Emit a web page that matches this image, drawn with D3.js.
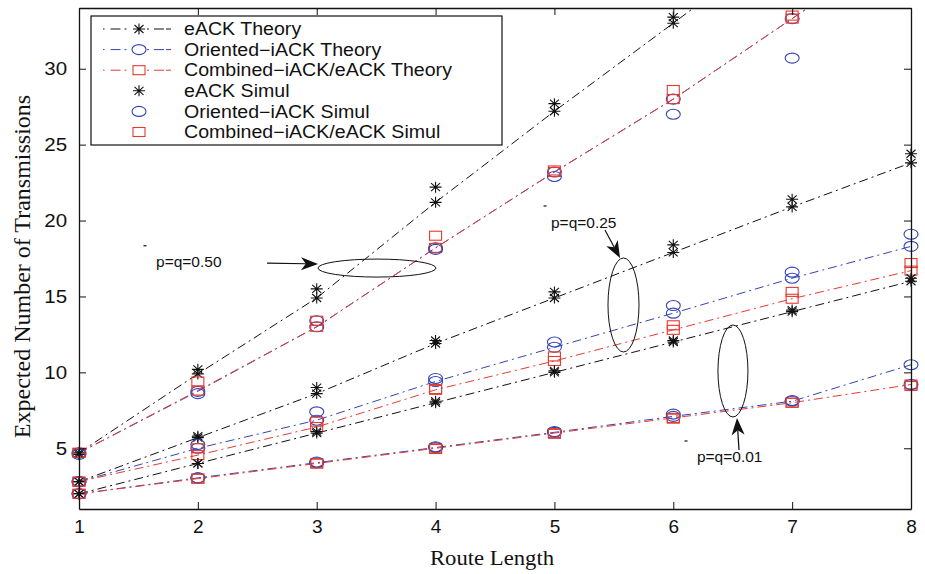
<!DOCTYPE html>
<html>
<head>
<meta charset="utf-8">
<script src="https://cdn.jsdelivr.net/npm/d3@7"></script>
<style>
  body { margin: 0; background: #fff; }
  text { font-family: "Liberation Sans", Arial, sans-serif; fill: #111; }
</style>
</head>
<body>
<div class="chart"></div>
<script>
const routeLength = [1, 2, 3, 4, 5, 6, 7, 8];
const yTickValues = [5, 10, 15, 20, 25, 30];

// p=q=0.50
const eackTheory50 = [4.7, 9.9, 14.9, 21.2, 27.2, 33.0, 38.9, 44.8];
const eackSimul50 = [4.6, 10.2, 15.5, 22.2, 27.7, 33.4, null, null];
const orientedTheory50 = [4.7, 8.75, 13.0, 18.2, 23.2, 28.0, 33.3, 38.6];
const orientedSimul50 = [4.6, 8.6, 13.4, 18.1, 22.9, 27.0, 30.7, null];
const combinedTheory50 = [4.7, 8.8, 13.0, 18.2, 23.2, 28.0, 33.3, 38.6];
const combinedSimul50 = [4.7, 9.4, 13.4, 19.0, 23.3, 28.6, 33.5, null];

// p=q=0.25
const eackTheory25 = [2.8, 5.7, 8.6, 11.9, 14.9, 17.9, 20.9, 23.8];
const eackSimul25 = [2.8, 5.8, 9.0, 12.1, 15.3, 18.4, 21.4, 24.4];
const orientedTheory25 = [2.8, 5.0, 6.85, 9.4, 11.65, 13.9, 16.2, 18.3];
const orientedSimul25 = [2.8, 5.25, 7.4, 9.6, 12.0, 14.4, 16.6, 19.1];
const combinedTheory25 = [2.8, 4.55, 6.4, 8.85, 10.75, 12.8, 14.85, 16.7];
const combinedSimul25 = [2.8, 5.0, 6.75, 8.9, 11.05, 13.1, 15.3, 17.2];

// p=q=0.01
const eackTheory01 = [2.0, 4.0, 6.0, 8.0, 10.0, 12.0, 14.0, 16.0];
const eackSimul01 = [2.0, 4.0, 6.1, 8.1, 10.1, 12.1, 14.1, 16.2];
const orientedTheory01 = [2.0, 3.05, 4.05, 5.05, 6.05, 7.1, 8.1, 10.5];
const orientedSimul01 = [2.0, 3.05, 4.1, 5.1, 6.1, 7.25, 8.15, 9.2];
const combinedTheory01 = [2.0, 3.0, 4.0, 5.0, 6.0, 7.0, 8.0, 9.2];
const combinedSimul01 = [2.0, 3.0, 4.0, 4.95, 5.95, 6.95, 8.0, 9.1];

const legendLabels = [
  'eACK Theory', 'Oriented\u2212iACK Theory', 'Combined\u2212iACK/eACK Theory',
  'eACK Simul', 'Oriented\u2212iACK Simul', 'Combined\u2212iACK/eACK Simul'
];

// annotations, positioned in data units
const annotations = [
  { label: 'p=q=0.50', text: [1.648, 17.27], from: [2.582, 17.2], tip: [3.011, 17.14], ell: [3.507, 16.87], rx: 59, ry: 9, tick: [1.555, 18.34] },
  { label: 'p=q=0.25', text: [4.971, 19.9], from: [5.425, 19.38], tip: [5.552, 17.53], ell: [5.581, 14.44], rx: 15.5, ry: 47, tick: [4.921, 20.96] },
  { label: 'p=q=0.01', text: [6.199, 4.43], from: [6.553, 4.89], tip: [6.536, 6.99], ell: [6.502, 10.09], rx: 15, ry: 46, tick: [6.107, 5.48] }
];

const colors = { eack: '#111111', oriented: '#3344b3', combined: '#e63a30' };
const dash = '9,4,2,4';

const theorySeries = [
  { kind: 'eack', values: [eackTheory50, eackTheory25, eackTheory01] },
  { kind: 'oriented', values: [orientedTheory50, orientedTheory25, orientedTheory01] },
  { kind: 'combined', values: [combinedTheory50, combinedTheory25, combinedTheory01] }
];
const simulSeries = [
  { kind: 'eack', values: [eackSimul50, eackSimul25, eackSimul01] },
  { kind: 'oriented', values: [orientedSimul50, orientedSimul25, orientedSimul01] },
  { kind: 'combined', values: [combinedSimul50, combinedSimul25, combinedSimul01] }
];

const width = 925, height = 574;
const plot = { left: 79, right: 911, top: 8, bottom: 509 };

const svg = d3.select('.chart').append('svg')
  .attr('width', width)
  .attr('height', height);

const x = d3.scaleLinear().domain([1, 8]).range([plot.left, plot.right]);
const y = d3.scaleLinear().domain([1, 34]).range([plot.bottom, plot.top]);

svg.append('clipPath').attr('id', 'plotclip')
  .append('rect')
  .attr('x', plot.left).attr('y', plot.top)
  .attr('width', plot.right - plot.left).attr('height', plot.bottom - plot.top);

function drawMarker(g, kind, cx, cy) {
  if (kind === 'eack') {
    g.append('path')
      .attr('d', `M${cx - 6},${cy}H${cx + 6}M${cx},${cy - 5.5}V${cy + 5.5}M${cx - 4.5},${cy - 4}L${cx + 4.5},${cy + 4}M${cx - 4.5},${cy + 4}L${cx + 4.5},${cy - 4}`)
      .attr('stroke', colors.eack).attr('stroke-width', 1.1).attr('fill', 'none');
  } else if (kind === 'oriented') {
    g.append('ellipse')
      .attr('cx', cx).attr('cy', cy).attr('rx', 7).attr('ry', 5)
      .attr('stroke', colors.oriented).attr('stroke-width', 1.1).attr('fill', 'none');
  } else {
    g.append('rect')
      .attr('x', cx - 6).attr('y', cy - 4.5).attr('width', 12).attr('height', 9)
      .attr('stroke', colors.combined).attr('stroke-width', 1.1).attr('fill', 'none');
  }
}

// theory lines
const line = d3.line()
  .defined(d => d[1] != null)
  .x(d => x(d[0]))
  .y(d => y(d[1]));

const lines = svg.append('g').attr('clip-path', 'url(#plotclip)');
theorySeries.forEach(s => {
  s.values.forEach(vals => {
    lines.append('path')
      .attr('d', line(routeLength.map((r, i) => [r, vals[i]])))
      .attr('fill', 'none')
      .attr('stroke', colors[s.kind])
      .attr('stroke-width', 1)
      .attr('stroke-dasharray', dash);
  });
});

// markers: theory then simul
const marks = svg.append('g');
[...theorySeries, ...simulSeries].forEach(s => {
  s.values.forEach(vals => {
    routeLength.forEach((r, i) => {
      const v = vals[i];
      if (v == null || v > 34) return;
      drawMarker(marks, s.kind, x(r), y(v));
    });
  });
});

// axes
const axisStyle = g => {
  g.select('.domain').attr('stroke', '#111').attr('stroke-width', 1.3);
  g.selectAll('.tick line').attr('stroke', '#111').attr('stroke-width', 1);
};

svg.append('g')
  .attr('transform', `translate(0,${plot.bottom})`)
  .call(d3.axisBottom(x).tickValues(routeLength).tickSize(-7).tickSizeOuter(0).tickPadding(11).tickFormat(d3.format('d')))
  .call(axisStyle)
  .call(g => g.selectAll('.tick text')
    .attr('font-family', '"Liberation Sans", Arial, sans-serif')
    .attr('font-size', 19).attr('fill', '#111'));

svg.append('g')
  .attr('transform', `translate(${plot.left},0)`)
  .call(d3.axisLeft(y).tickValues(yTickValues).tickSize(-7).tickSizeOuter(0).tickPadding(11))
  .call(axisStyle)
  .call(g => g.selectAll('.tick text')
    .attr('font-family', '"Liberation Sans", Arial, sans-serif')
    .attr('font-size', 19).attr('fill', '#111')
    .attr('transform', 'scale(1.08,1)'));

svg.append('g')
  .attr('transform', `translate(0,${plot.top})`)
  .call(d3.axisTop(x).tickValues(routeLength).tickSize(-7).tickSizeOuter(0).tickFormat(''))
  .call(axisStyle);

svg.append('g')
  .attr('transform', `translate(${plot.right},0)`)
  .call(d3.axisRight(y).tickValues(yTickValues).tickSize(-7).tickSizeOuter(0).tickFormat(''))
  .call(axisStyle);

// axis titles
svg.append('text')
  .attr('transform', `translate(${(plot.left + plot.right) / 2 - 3},565) scale(1.08,1)`)
  .attr('text-anchor', 'middle')
  .style('font-family', '"Liberation Serif", "Times New Roman", serif')
  .attr('font-size', 21)
  .text('Route Length');

svg.append('text')
  .attr('transform', `translate(30,${(plot.top + plot.bottom) / 2 + 8}) rotate(-90)`)
  .attr('text-anchor', 'middle')
  .style('font-family', '"Liberation Serif", "Times New Roman", serif')
  .attr('font-size', 24)
  .text('Expected Number of Transmissions');

// annotations
function arrow(g, from, tip) {
  const x0 = x(from[0]), y0 = y(from[1]), x1 = x(tip[0]), y1 = y(tip[1]);
  const len = Math.hypot(x1 - x0, y1 - y0);
  const ux = (x1 - x0) / len, uy = (y1 - y0) / len;
  const nx = -uy, ny = ux;
  const L = 17, w = 6.5;
  const bx = x1 - ux * L, by = y1 - uy * L;
  const notchX = x1 - ux * L * 0.72, notchY = y1 - uy * L * 0.72;
  g.append('line')
    .attr('x1', x0).attr('y1', y0).attr('x2', notchX).attr('y2', notchY)
    .attr('stroke', '#111').attr('stroke-width', 1.2);
  g.append('path')
    .attr('d', `M${x1},${y1}L${bx + nx * w},${by + ny * w}L${notchX},${notchY}L${bx - nx * w},${by - ny * w}Z`)
    .attr('fill', '#111');
}

const notes = svg.append('g');
annotations.forEach(a => {
  notes.append('ellipse')
    .attr('cx', x(a.ell[0])).attr('cy', y(a.ell[1]))
    .attr('rx', a.rx).attr('ry', a.ry)
    .attr('fill', 'none').attr('stroke', '#111').attr('stroke-width', 1);
  arrow(notes, a.from, a.tip);
  notes.append('text')
    .attr('x', x(a.text[0])).attr('y', y(a.text[1]))
    .attr('dominant-baseline', 'central')
    .attr('font-size', 15.5)
    .text(a.label);
  notes.append('line')
    .attr('x1', x(a.tick[0]) - 1.5).attr('x2', x(a.tick[0]) + 1.5)
    .attr('y1', y(a.tick[1])).attr('y2', y(a.tick[1]))
    .attr('stroke', '#111').attr('stroke-width', 1.2);
});

// legend
const legend = svg.append('g').attr('transform', 'translate(91,16)');
legend.append('rect')
  .attr('width', 411).attr('height', 129)
  .attr('fill', '#fff').attr('stroke', '#111').attr('stroke-width', 1.2);

const legendKinds = ['eack', 'oriented', 'combined', 'eack', 'oriented', 'combined'];
legendLabels.forEach((label, i) => {
  const ry = 13 + i * 20.6;
  const row = legend.append('g');
  if (i < 3) {
    row.append('line')
      .attr('x1', 12).attr('x2', 80).attr('y1', ry).attr('y2', ry)
      .attr('stroke', colors[legendKinds[i]]).attr('stroke-width', 1)
      .attr('stroke-dasharray', '1.5,6,10,4,2,60');
    row.append('line')
      .attr('x1', 56).attr('x2', 80).attr('y1', ry).attr('y2', ry)
      .attr('stroke', colors[legendKinds[i]]).attr('stroke-width', 1)
      .attr('stroke-dasharray', '2,5,10');
  }
  drawMarker(row, legendKinds[i], 48, ry);
  row.append('text')
    .attr('transform', `translate(93,${ry}) scale(1.12,1)`)
    .attr('dominant-baseline', 'central')
    .attr('font-size', 17.5)
    .text(label);
});
</script>
</body>
</html>
